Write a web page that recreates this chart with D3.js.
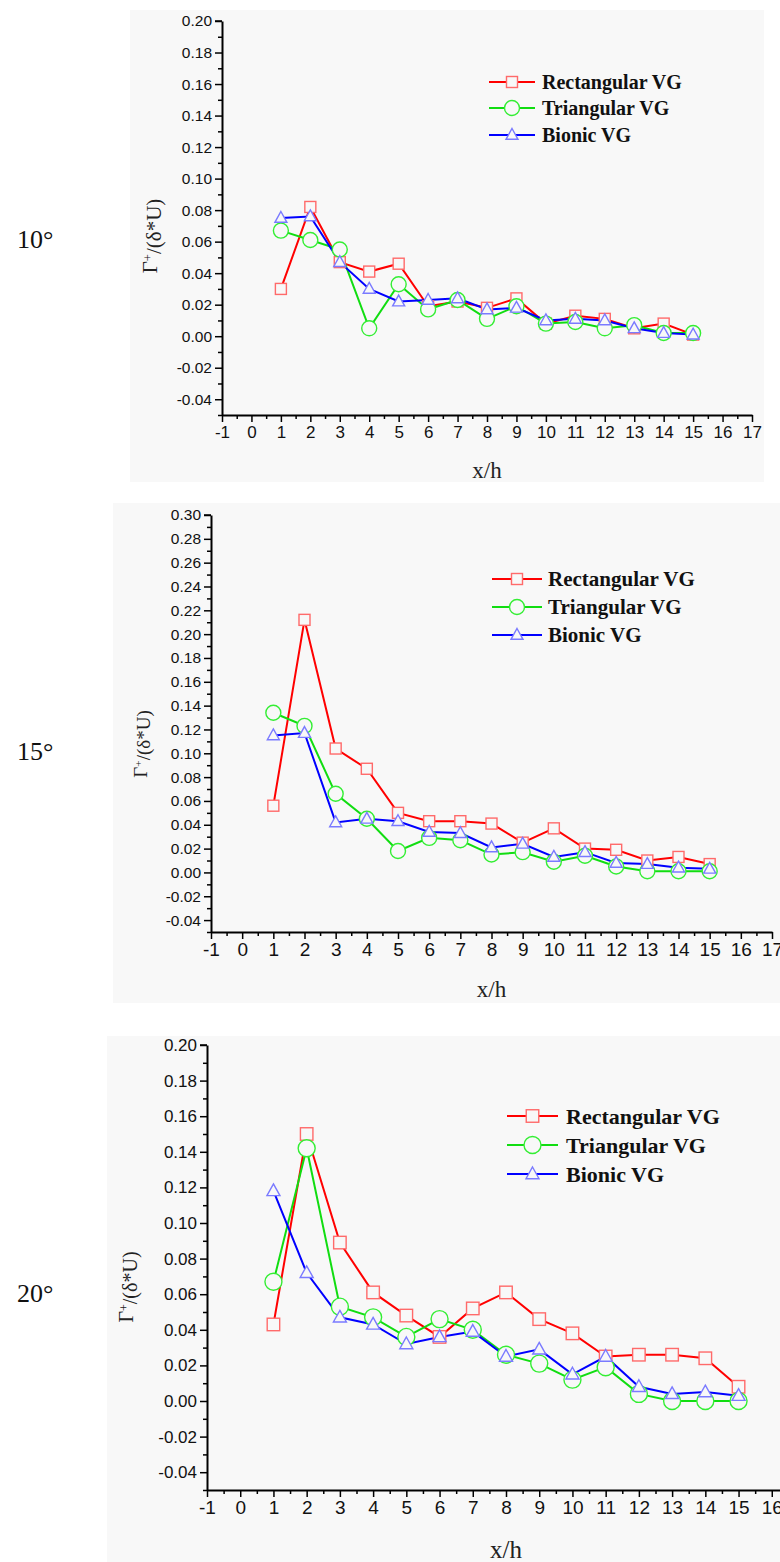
<!DOCTYPE html>
<html>
<head>
<meta charset="utf-8">
<script src="https://cdn.jsdelivr.net/npm/d3@7/dist/d3.min.js"></script>
<style>
    body { margin: 0; background: #fff; }
    svg { display: block; }
</style>
</head>
<body>
<svg id="chart" width="780" height="1562"></svg>
<script>
// x/h stations
const xh = [1, 2, 3, 4, 5, 6, 7, 8, 9, 10, 11, 12, 13, 14, 15];
const seriesNames = ['Rectangular VG', 'Triangular VG', 'Bionic VG'];
const angles = ['10°', '15°', '20°'];

// 10 deg
const rect10 = [0.030, 0.082, 0.047, 0.041, 0.046, 0.019, 0.022, 0.018, 0.024, 0.008, 0.013, 0.011, 0.005, 0.008, 0.001];
const tri10 = [0.067, 0.061, 0.055, 0.005, 0.033, 0.017, 0.023, 0.011, 0.019, 0.008, 0.009, 0.005, 0.007, 0.002, 0.002];
const bio10 = [0.075, 0.076, 0.047, 0.030, 0.022, 0.023, 0.024, 0.017, 0.018, 0.010, 0.011, 0.010, 0.005, 0.002, 0.001];

// 15 deg
const rect15 = [0.056, 0.212, 0.104, 0.087, 0.050, 0.043, 0.043, 0.041, 0.025, 0.037, 0.020, 0.019, 0.010, 0.013, 0.007];
const tri15 = [0.134, 0.123, 0.066, 0.045, 0.018, 0.029, 0.027, 0.015, 0.017, 0.009, 0.014, 0.005, 0.001, 0.001, 0.001];
const bio15 = [0.115, 0.117, 0.042, 0.045, 0.043, 0.034, 0.033, 0.021, 0.024, 0.013, 0.017, 0.008, 0.007, 0.004, 0.003];

// 20 deg
const rect20 = [0.043, 0.150, 0.089, 0.061, 0.048, 0.036, 0.052, 0.061, 0.046, 0.038, 0.025, 0.026, 0.026, 0.024, 0.008];
const tri20 = [0.067, 0.142, 0.053, 0.047, 0.036, 0.046, 0.040, 0.026, 0.021, 0.012, 0.019, 0.004, 0.000, 0.000, 0.000];
const bio20 = [0.118, 0.072, 0.047, 0.043, 0.032, 0.036, 0.039, 0.025, 0.029, 0.015, 0.025, 0.008, 0.004, 0.005, 0.003];

const lineColors = ['#ff0000', '#11dd11', '#0000ff'];
const markColors = ['#ff6a6a', '#33ee33', '#7a7aff'];
const panelBg = '#f8f8f8';

const panels = [
    {
        angle: angles[0], series: [rect10, tri10, bio10], yMax: 0.20,
        left: 222, right: 752, top: 21, bottom: 415,
        bg: [130, 10, 634, 472], yFont: 15.5, xFont: 17,
        angleY: 248, title: { x: 150, y: 236, size: 21 },
        xhY: 478, xhSize: 23,
        legend: { x0: 489, x1: 535, tx: 542, y: [82, 108, 135], size: 20 },
        mark: { sq: 11, r: 7.5, tri: 12 },
    },
    {
        angle: angles[1], series: [rect15, tri15, bio15], yMax: 0.30,
        left: 211, right: 772, top: 515, bottom: 932,
        bg: [113, 503, 667, 500], yFont: 15.5, xFont: 19,
        angleY: 760, title: { x: 140, y: 744, size: 19 },
        xhY: 997, xhSize: 23,
        legend: { x0: 492, x1: 542, tx: 548, y: [579, 607, 635], size: 21 },
        mark: { sq: 11, r: 7.5, tri: 12 },
    },
    {
        angle: angles[2], series: [rect20, tri20, bio20], yMax: 0.20,
        left: 207, right: 805, top: 1045, bottom: 1490,
        bg: [107, 1036, 673, 526], yFont: 17, xFont: 19,
        angleY: 1302, title: { x: 126, y: 1287, size: 20 },
        xhY: 1558, xhSize: 25,
        legend: { x0: 507, x1: 558, tx: 566, y: [1116, 1145, 1174], size: 22 },
        mark: { sq: 12.5, r: 8.5, tri: 13 },
    },
];

const svg = d3.select('#chart');
const fmt = (v) => (Math.abs(v) < 1e-9 ? 0 : v).toFixed(2);

function marker(g, i, cx, cy, m) {
    if (i === 0) {
        g.append('rect')
            .attr('x', cx - m.sq / 2).attr('y', cy - m.sq / 2)
            .attr('width', m.sq).attr('height', m.sq);
    } else if (i === 1) {
        g.append('circle').attr('cx', cx).attr('cy', cy).attr('r', m.r);
    } else {
        const w = m.tri, h = m.tri * 0.9;
        g.append('path')
            .attr('d', `M${cx},${cy - h * 0.6}L${cx + w / 2},${cy + h * 0.4}L${cx - w / 2},${cy + h * 0.4}Z`);
    }
    g.selectAll(':last-child')
        .attr('fill', panelBg)
        .attr('stroke', markColors[i])
        .attr('stroke-width', 1.4);
}

panels.forEach((p) => {
    const g = svg.append('g');

    g.append('rect')
        .attr('x', p.bg[0]).attr('y', p.bg[1])
        .attr('width', p.bg[2]).attr('height', p.bg[3])
        .attr('fill', panelBg);

    const x = d3.scaleLinear().domain([-1, 17]).range([p.left, p.right]);
    const y = d3.scaleLinear().domain([-0.05, p.yMax]).range([p.bottom, p.top]);

    const yMajor = d3.range(-0.04, p.yMax + 0.001, 0.02);
    const yMinor = d3.range(-0.05, p.yMax, 0.01).filter((v) => Math.round(v * 100) % 2 !== 0);
    const xMajor = d3.range(-1, 18);
    const xMinor = d3.range(-0.5, 17, 1);

    // y axis
    const ya = g.append('g').attr('transform', `translate(${p.left},0)`);
    ya.call(d3.axisLeft(y).tickValues(yMajor).tickSize(7).tickSizeOuter(0).tickPadding(3).tickFormat(fmt));
    ya.append('g').call(d3.axisLeft(y).tickValues(yMinor).tickSize(4).tickFormat(''))
        .select('.domain').remove();
    ya.selectAll('text')
        .attr('font-family', 'Liberation Sans, Arial, sans-serif')
        .attr('font-size', p.yFont)
        .attr('fill', '#111');

    // x axis
    const xa = g.append('g').attr('transform', `translate(0,${p.bottom})`);
    xa.call(d3.axisBottom(x).tickValues(xMajor).tickSize(7).tickSizeOuter(0).tickPadding(4).tickFormat((v) => String(v)));
    xa.append('g').call(d3.axisBottom(x).tickValues(xMinor).tickSize(4).tickFormat(''))
        .select('.domain').remove();
    xa.selectAll('text')
        .attr('font-family', 'Liberation Sans, Arial, sans-serif')
        .attr('font-size', p.xFont)
        .attr('fill', '#111');

    g.selectAll('.domain').attr('stroke', '#000').attr('stroke-width', 2);
    g.selectAll('.tick line').attr('stroke', '#000').attr('stroke-width', 1.5);

    // top tick on y axis (axis end)
    g.append('line')
        .attr('x1', p.left - 7).attr('x2', p.left)
        .attr('y1', y(p.yMax)).attr('y2', y(p.yMax))
        .attr('stroke', '#000').attr('stroke-width', 1.5);

    // series
    const line = d3.line().x((d, k) => x(xh[k])).y((d) => y(d));
    p.series.forEach((vals, i) => {
        g.append('path')
            .datum(vals)
            .attr('d', line)
            .attr('fill', 'none')
            .attr('stroke', lineColors[i])
            .attr('stroke-width', 2);
    });
    p.series.forEach((vals, i) => {
        const mg = g.append('g');
        vals.forEach((v, k) => marker(mg, i, x(xh[k]), y(v), p.mark));
    });

    // legend
    seriesNames.forEach((name, i) => {
        const ly = p.legend.y[i];
        g.append('line')
            .attr('x1', p.legend.x0).attr('x2', p.legend.x1)
            .attr('y1', ly).attr('y2', ly)
            .attr('stroke', lineColors[i]).attr('stroke-width', 2);
        const lg = g.append('g');
        marker(lg, i, (p.legend.x0 + p.legend.x1) / 2, ly, p.mark);
        g.append('text')
            .attr('x', p.legend.tx).attr('y', ly)
            .attr('dy', '0.35em')
            .attr('font-family', 'Liberation Serif, Times New Roman, serif')
            .attr('font-weight', 'bold')
            .attr('font-size', p.legend.size)
            .attr('fill', '#111')
            .text(name);
    });

    // axis titles
    g.append('text')
        .attr('x', (p.left + p.right) / 2)
        .attr('y', p.xhY)
        .attr('text-anchor', 'middle')
        .attr('font-family', 'Liberation Serif, Times New Roman, serif')
        .attr('font-size', p.xhSize)
        .attr('fill', '#222')
        .text('x/h');

    const yt = g.append('text')
        .attr('transform', `translate(${p.title.x},${p.title.y}) rotate(-90)`)
        .attr('text-anchor', 'middle')
        .attr('dy', '0.35em')
        .attr('font-family', 'Liberation Serif, Times New Roman, serif')
        .attr('font-size', p.title.size)
        .attr('fill', '#222');
    yt.append('tspan').text('Γ');
    yt.append('tspan').attr('dy', '-0.45em').attr('font-size', p.title.size * 0.6).text('+');
    yt.append('tspan').attr('dy', '0.45em').text('/(δ*U)');

    // angle label
    svg.append('text')
        .attr('x', 17).attr('y', p.angleY)
        .attr('font-family', 'Liberation Serif, Times New Roman, serif')
        .attr('font-size', 26)
        .attr('fill', '#111')
        .text(p.angle);
});
</script>
</body>
</html>
